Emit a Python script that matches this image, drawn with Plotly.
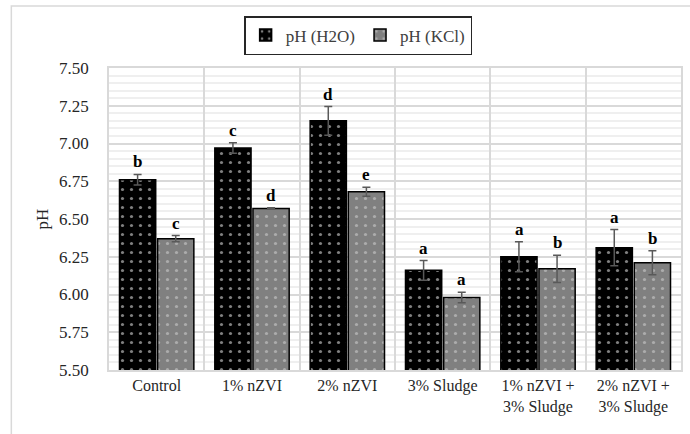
import plotly.graph_objects as go

categories = ["Control", "1% nZVI", "2% nZVI", "3% Sludge", "1% nZVI +<br>3% Sludge", "2% nZVI +<br>3% Sludge"]
ph_h2o = [6.76, 6.97, 7.15, 6.16, 6.25, 6.31]
ph_h2o_err = [0.035, 0.035, 0.095, 0.065, 0.10, 0.12]
ph_h2o_letters = ["b", "c", "d", "a", "a", "a"]
ph_kcl = [6.37, 6.57, 6.68, 5.98, 6.17, 6.21]
ph_kcl_err = [0.02, 0.005, 0.03, 0.035, 0.09, 0.08]
ph_kcl_letters = ["c", "d", "e", "a", "b", "b"]

FONT = "'Liberation Serif', 'Times New Roman', serif"

fig = go.Figure()
fig.add_trace(go.Bar(
    name="pH (H2O)", x=categories, y=ph_h2o,
    error_y=dict(type="data", array=ph_h2o_err, color="#595959", thickness=1.5, width=4),
    marker=dict(color="black", line=dict(color="black", width=1.5),
                pattern=dict(shape=".", fgcolor="white", bgcolor="black", size=9, solidity=0.1)),
))
fig.add_trace(go.Bar(
    name="pH (KCl)", x=categories, y=ph_kcl,
    error_y=dict(type="data", array=ph_kcl_err, color="#595959", thickness=1.5, width=4),
    marker=dict(color="#808080", line=dict(color="black", width=1.5),
                pattern=dict(shape=".", fgcolor="#d8d8d8", bgcolor="#808080", size=9, solidity=0.1)),
))

for i, c in enumerate(categories):
    fig.add_annotation(x=c, y=ph_h2o[i] + ph_h2o_err[i], text="<b>%s</b>" % ph_h2o_letters[i],
                       xshift=-19, yshift=1, yanchor="bottom", showarrow=False,
                       font=dict(family=FONT, size=17, color="black"))
    fig.add_annotation(x=c, y=ph_kcl[i] + ph_kcl_err[i], text="<b>%s</b>" % ph_kcl_letters[i],
                       xshift=19, yshift=1, yanchor="bottom", showarrow=False,
                       font=dict(family=FONT, size=17, color="black"))

# outer chart border
fig.add_shape(type="rect", xref="paper", yref="paper",
              x0=(11 - 109) / 574, x1=1.3, y0=-0.4, y1=1 + (68 - 6) / 302,
              line=dict(color="#d9d9d9", width=1.5), fillcolor="rgba(0,0,0,0)", layer="below")

fig.update_layout(
    width=690, height=434,
    margin=dict(l=109, r=7, t=68, b=64),
    paper_bgcolor="white", plot_bgcolor="white",
    barmode="group", bargap=0.2, bargroupgap=0.05,
    font=dict(family=FONT, size=16, color="#404040"),
    showlegend=True,
    legend=dict(orientation="h", x=(359 - 109) / 574, xanchor="center", y=1 + 13 / 302, yanchor="bottom",
                bordercolor="#262626", borderwidth=1.5, font=dict(family=FONT, size=17, color="#404040"),
                itemwidth=30, traceorder="normal"),
    xaxis=dict(tickson="boundaries", showgrid=True, gridcolor="#d9d9d9", gridwidth=1.5,
               showline=True, linecolor="#d9d9d9", linewidth=1.5, mirror=True,
               ticks="", tickfont=dict(family=FONT, size=16, color="#262626")),
    yaxis=dict(range=[5.5, 7.5], dtick=0.25, tickformat=".2f",
               showgrid=True, gridcolor="#d9d9d9", gridwidth=1.5,
               minor=dict(dtick=0.05, showgrid=True, gridcolor="#efefef", gridwidth=1.5),
               showline=True, linecolor="#d9d9d9", linewidth=1.5, mirror=True,
               ticks="", ticklabelstandoff=15, zeroline=False,
               tickfont=dict(family=FONT, size=17, color="#262626"),
               title=dict(text="pH", font=dict(family=FONT, size=17, color="#262626"), standoff=6)),
)

fig.write_html("out.html", config={"displayModeBar": False},
               post_script="document.body.style.margin='0';")
